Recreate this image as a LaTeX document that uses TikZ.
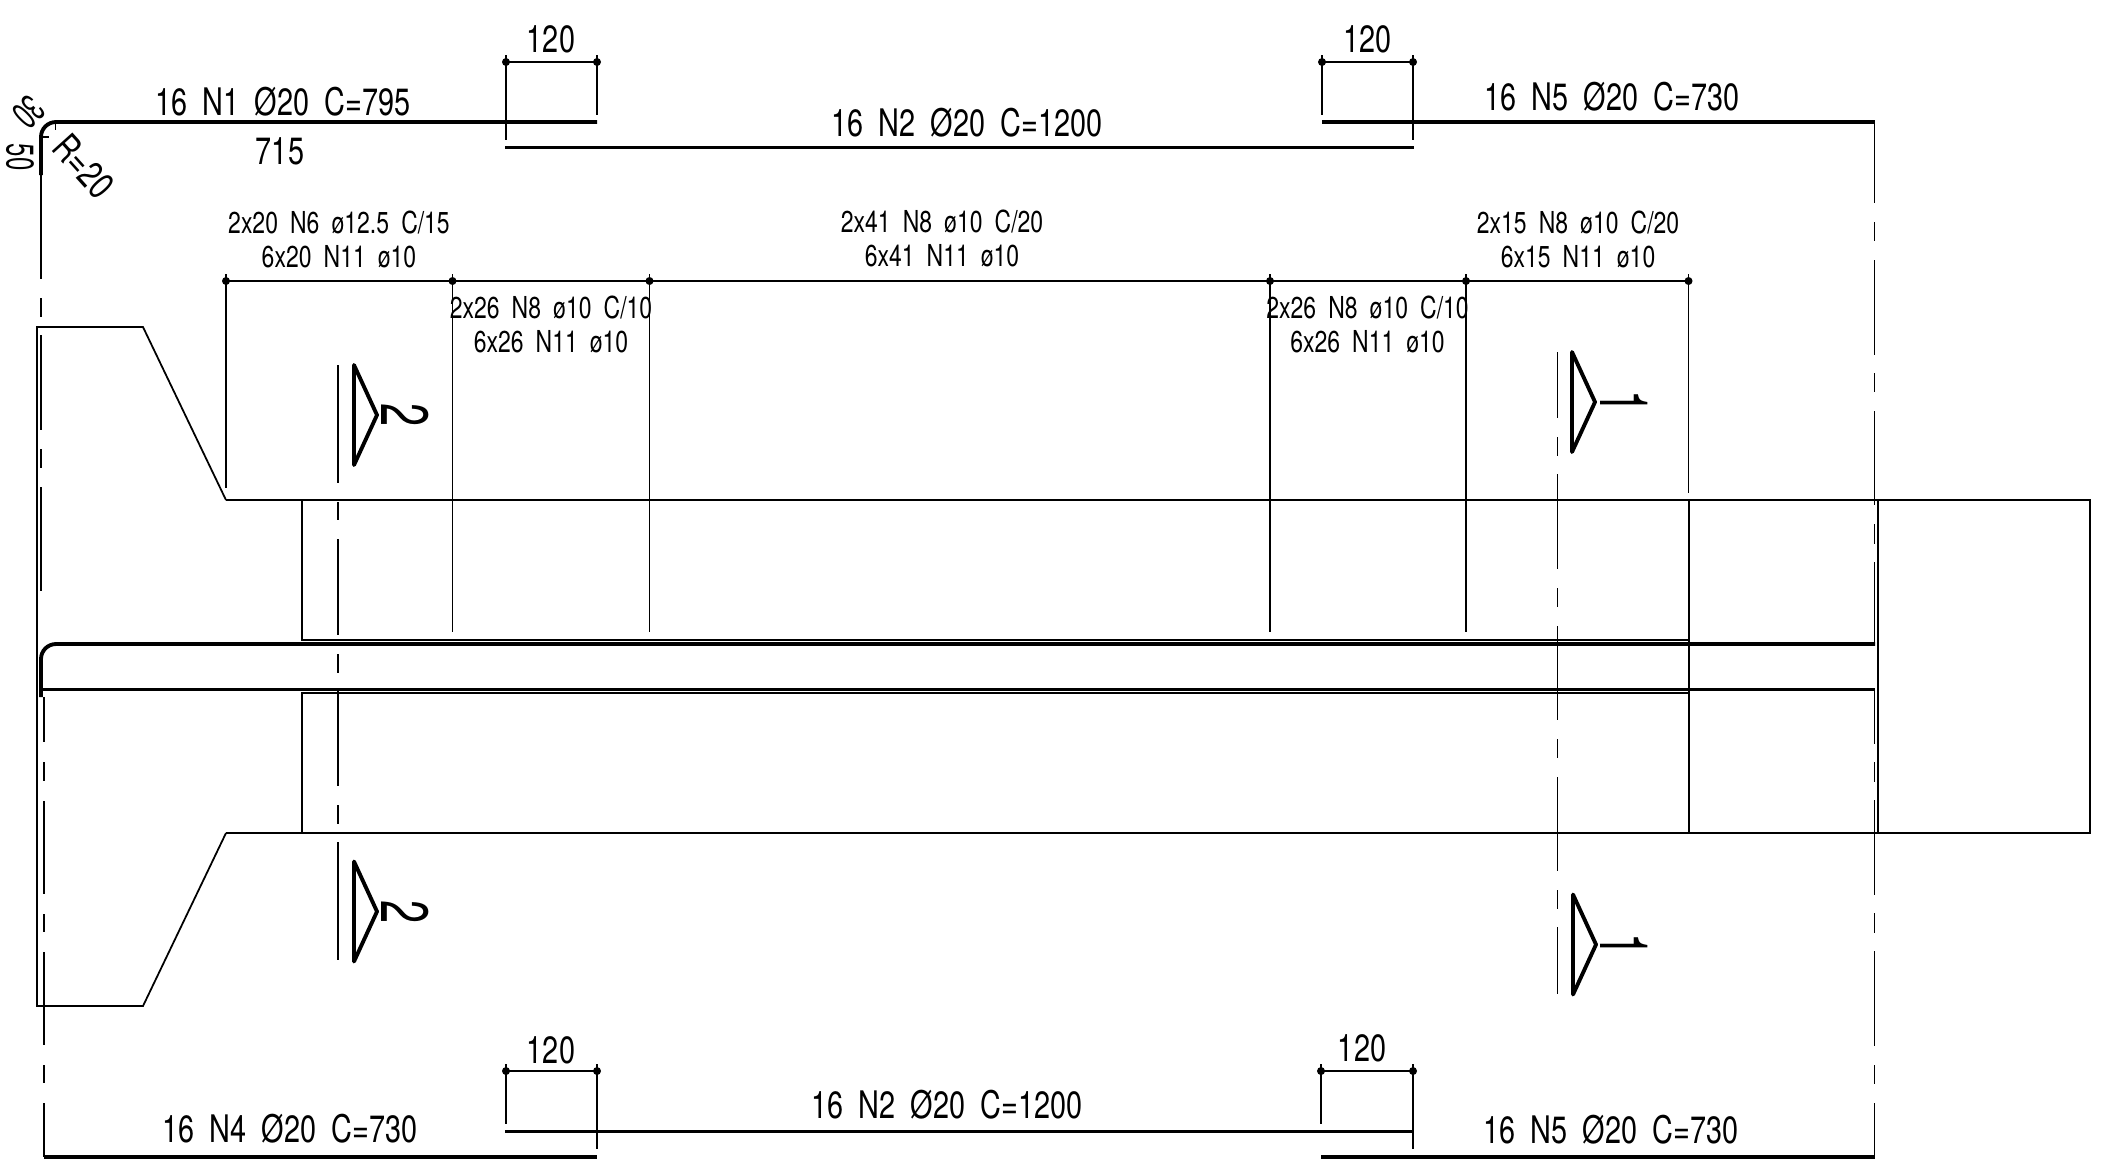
\documentclass[tikz,border=0pt]{standalone}
\usepackage{fontspec}
\newfontfamily\cadfont[FakeStretch=0.76,WordSpace=1.9]{TeX Gyre Heros}
\newfontfamily\cadbig[FakeStretch=0.62]{TeX Gyre Heros}

\begin{document}
\begin{tikzpicture}[x=0.1mm,y=-0.1mm,
	thinline/.style={line width=0.4pt},
	outline/.style={line width=0.5pt},
	bar/.style={line width=1.1pt},
	cutline/.style={line width=1.1pt,line join=round,line cap=round},
	barlabel/.style={inner sep=0pt,font=\cadfont\fontsize{10.8pt}{12pt}\selectfont},
	stirlabel/.style={inner sep=0pt,font=\cadfont\fontsize{8.6pt}{10pt}\selectfont},
	hooklabel/.style={inner sep=0pt,font=\cadbig\fontsize{11pt}{12pt}\selectfont},
	cutlabel/.style={inner sep=0pt,rotate=-90,font=\cadbig\fontsize{19pt}{20pt}\selectfont}]

\useasboundingbox (0,0) rectangle (2112,1164);

% concrete outline
\draw[outline] (226,500)--(143,327)--(37,327)--(37,1006)--(143,1006)--(226,833);
\draw[outline] (226,500)--(2090,500)--(2090,833)--(226,833);
\draw[outline] (1878,500)--(1878,833);
\draw[outline] (302,500)--(302,640)--(1689,640);
\draw[outline] (302,833)--(302,693)--(1689,693);
\draw[outline] (1689,500)--(1689,833);

% cut lines
\foreach \a/\b in {175/279,298/317,335/430,449/468,487/591}{
	\draw[thinline] (41,\a)--(41,\b);
}
\foreach \a/\b in {697/742,762/781,801/894,914/932,952/1045,1065/1083,1103/1157}{
	\draw[thinline] (44,\a)--(44,\b);
}
\foreach \a/\b in {365/483,502/520,539/635,654/673,691/786,805/824,842/960}{
	\draw[thinline] (338,\a)--(338,\b);
}
\foreach \a/\b in {352/418,437/456,474/569,588/607,626/720,739/758,777/871,890/909,927/994}{
	\draw[thinline] (1557.5,\a)--(1557.5,\b);
}
\foreach \a/\b in {122/203,222/241,260/355,373/392,411/505,524/544,562/644,690/744,762/782,800/895,913/933,951/1046,1065/1084,1103/1157}{
	\draw[thinline] (1874.5,\a)--(1874.5,\b);
}

% bars
\draw[bar,rounded corners=1.5mm] (41,175)--(41,122)--(597,122);
\draw[bar] (505,147.5)--(1414,147.5);
\draw[bar] (1322,122)--(1875,122);
\draw[bar,rounded corners=1.5mm] (41,697)--(41,644)--(1875,644);
\draw[bar] (43,689.5)--(1875,689.5);
\draw[bar] (44,1157)--(597,1157);
\draw[bar] (505,1131.5)--(1414,1131.5);
\draw[bar] (1321,1157)--(1875,1157);

\draw[thinline] (55.5,122)--(55.5,130);
\draw[thinline] (41,137)--(49,137);

% lap dimensions
\foreach \x/\y/\yy/\top/\bot in {506/597/62/140/115,1322/1413/62/115/140,506/597/1071/1124/1149,1321/1413/1071/1124/1149}{
	\draw[thinline] (\x,\yy)--(\y,\yy);
	\draw[thinline] (\x,\yy-7)--(\x,\top);
	\draw[thinline] (\y,\yy-7)--(\y,\bot);
	\fill (\x,\yy) circle[radius=4];
	\fill (\y,\yy) circle[radius=4];
}

% stirrup dimensions
\draw[thinline] (226,281)--(1688.5,281);
\foreach \x/\yy in {226/488,452.5/632,649.5/632,1270/632,1466/632,1688.5/493}{
	\draw[thinline] (\x,274)--(\x,\yy);
	\fill (\x,281) circle[radius=4];
}

% section marks
\foreach \x/\yy/\c/\n/\lab in {354/415/405/cutTwoA/2,354/911.5/405/cutTwoB/2,1572/402/1624/cutOneA/1,1573/944.5/1624/cutOneB/1}{
	\draw[cutline] (\x,\yy-50)--(\x,\yy+50)--(\x+23,\yy)--cycle;
	\node[cutlabel] (\n) at (\c,\yy) {\lab};
}

% bar labels
\node[barlabel] (topA) at (283,102) {16 N1 Ø20 C=795};
\node[barlabel] (topLen) at (280,151) {715};
\node[barlabel] (topB) at (967,123) {16 N2 Ø20 C=1200};
\node[barlabel] (topC) at (1612,97) {16 N5 Ø20 C=730};
\node[barlabel] (botA) at (290,1129) {16 N4 Ø20 C=730};
\node[barlabel] (botB) at (947,1104.5) {16 N2 Ø20 C=1200};
\node[barlabel] (botC) at (1611,1130) {16 N5 Ø20 C=730};

\node[barlabel] (lapA) at (551,39) {120};
\node[barlabel] (lapB) at (1367.5,39) {120};
\node[barlabel] (lapC) at (551,1050) {120};
\node[barlabel] (lapD) at (1362,1048) {120};

\node[hooklabel,rotate=-135] (hookA) at (29,112) {30};
\node[hooklabel,rotate=-90] (hookB) at (20,157) {50};
\node[barlabel,rotate=-48] (hookR) at (84,166) {R=20};

% stirrup labels
\node[stirlabel] (stirA) at (339,222) {2x20 N6 ø12.5 C/15};
\node[stirlabel] (linkA) at (339,257) {6x20 N11 ø10};
\node[stirlabel] (stirB) at (551,307) {2x26 N8 ø10 C/10};
\node[stirlabel] (linkB) at (551,342) {6x26 N11 ø10};
\node[stirlabel] (stirC) at (942,221) {2x41 N8 ø10 C/20};
\node[stirlabel] (linkC) at (942,256) {6x41 N11 ø10};
\node[stirlabel] (stirD) at (1367.5,307) {2x26 N8 ø10 C/10};
\node[stirlabel] (linkD) at (1367.5,342) {6x26 N11 ø10};
\node[stirlabel] (stirE) at (1578,222) {2x15 N8 ø10 C/20};
\node[stirlabel] (linkE) at (1578,257) {6x15 N11 ø10};

\end{tikzpicture}
\end{document}
